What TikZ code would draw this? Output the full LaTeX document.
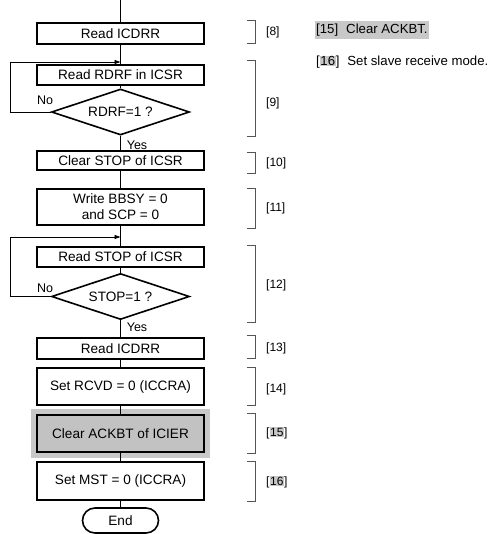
\documentclass[tikz,border=0pt]{standalone}
\usepackage{fontspec}
\setmainfont{Liberation Sans}
\usepackage{xcolor}
\usetikzlibrary{arrows.meta,shapes.geometric,shapes.misc,fit,backgrounds}
\definecolor{mark}{HTML}{C8C8C8}
\definecolor{markbox}{HTML}{C2C2C2}
\definecolor{brk}{HTML}{555555}
\newcommand{\hilite}[1]{{\setlength{\fboxsep}{0.6pt}\colorbox{mark}{#1}}}
\tikzset{
  stepbox/.style={draw, rectangle, line width=1.6pt, minimum width=167pt, align=center, inner sep=0pt, font=\fontsize{13.6}{16}\selectfont},
  test/.style={draw, diamond, line width=1.6pt, shape aspect=3, minimum width=138pt, minimum height=46pt, inner sep=0pt, font=\fontsize{13.6}{16}\selectfont},
  term/.style={draw, rounded rectangle, line width=1.6pt, minimum width=76pt, minimum height=25pt, inner sep=0pt, font=\fontsize{13.6}{16}\selectfont},
  flow/.style={line width=0.8pt},
  back/.style={flow, -{Triangle[length=6pt, width=4pt]}},
  yn/.style={font=\fontsize{12.5}{14}\selectfont, inner sep=0pt},
  tag/.style={anchor=west, font=\fontsize{12}{14}\selectfont, inner sep=0pt},
  note/.style={anchor=west, font=\fontsize{13.2}{16}\selectfont, inner sep=0pt}
}

\begin{document}
\begin{tikzpicture}[x=1pt, y=-1pt]
\useasboundingbox (0,0) rectangle (494,534);
% flow chart
\coordinate (top) at (120.5,0);
\node[stepbox, minimum height=21pt] (rd1) at (120.5,33.5) {Read ICDRR};
\node[stepbox, minimum height=20pt] (rdrf) at (120.5,75) {Read RDRF in ICSR};
\node[test] (d1) at (120.5,112) {RDRF=1 ?};
\node[stepbox, minimum height=19pt] (stp) at (120.5,160.5) {Clear STOP of ICSR};
\node[stepbox, minimum height=36pt] (bbsy) at (120.5,207) {Write BBSY = 0\\and SCP = 0};
\node[stepbox, minimum height=20pt] (rstop) at (120.5,257) {Read STOP of ICSR};
\node[test] (d2) at (120.5,296.5) {STOP=1 ?};
\node[stepbox, minimum height=21pt] (rd2) at (120.5,348.5) {Read ICDRR};
\node[stepbox, minimum height=37pt] (rcvd) at (120.5,386.5) {Set RCVD = 0 (ICCRA)};
\node[stepbox, minimum height=37pt, fill=markbox] (ack) at (120.5,433.5) {Clear ACKBT of ICIER};
\node[stepbox, minimum height=38pt] (mst) at (120.5,481) {Set MST = 0 (ICCRA)};
\node[term] (fin) at (120.5,520.5) {End};
\begin{scope}[on background layer]
  \node[fit=(ack), fill=mark, inner xsep=5pt, inner ysep=5.5pt] (ackmark) {};
\end{scope}

\draw[flow] (top) -- (rd1);
\draw[flow] (rd1) -- (rdrf);
\draw[flow] (rdrf) -- (d1);
\draw[flow] (d1) -- (stp);
\draw[flow] (stp) -- (bbsy);
\draw[flow] (bbsy) -- (rstop);
\draw[flow] (rstop) -- (d2);
\draw[flow] (d2) -- (rd2);
\draw[flow] (rd2) -- (rcvd);
\draw[flow] (rcvd) -- (ack);
\draw[flow] (ack) -- (mst);
\draw[flow] (mst) -- (fin);

% retry loops
\coordinate (j1) at (120.5,62);
\coordinate (l1) at (10,62);
\draw[back] (d1.west) -| (l1) -- (j1);
\coordinate (j2) at (120.5,237);
\coordinate (l2) at (10,237);
\draw[back] (d2.west) -| (l2) -- (j2);
\node[yn] (no1) at (45,100) {No};
\node[yn] (yes1) at (137,145) {Yes};
\node[yn] (no2) at (45,288) {No};
\node[yn] (yes2) at (137,327) {Yes};

% step brackets
\foreach \a/\b/\c/\t in {20/43/32/8, 60/136/103/9, 152/173/163/10, 188/228/208/11,
    245/322/285/12, 335/358/348/13, 367/405/389/14, 413/453/433/\hilite{15}, 461/501/482/\hilite{16}} {
  \draw[brk, line width=0.9pt] (247,\a) -- (255,\a) -- (255,\b) -- (247,\b);
  \node[tag] (s\c) at (266,\c) {[\t]};
}

% notes
\node[note, fill=mark, inner xsep=1pt, inner ysep=2.5pt] (n15) at (315,30) {[15]\hspace{8pt}Clear ACKBT.};
\node[note] (n16) at (316,62) {[\hilite{16}]\hspace{8pt}Set slave receive mode.};
\end{tikzpicture}
\end{document}
